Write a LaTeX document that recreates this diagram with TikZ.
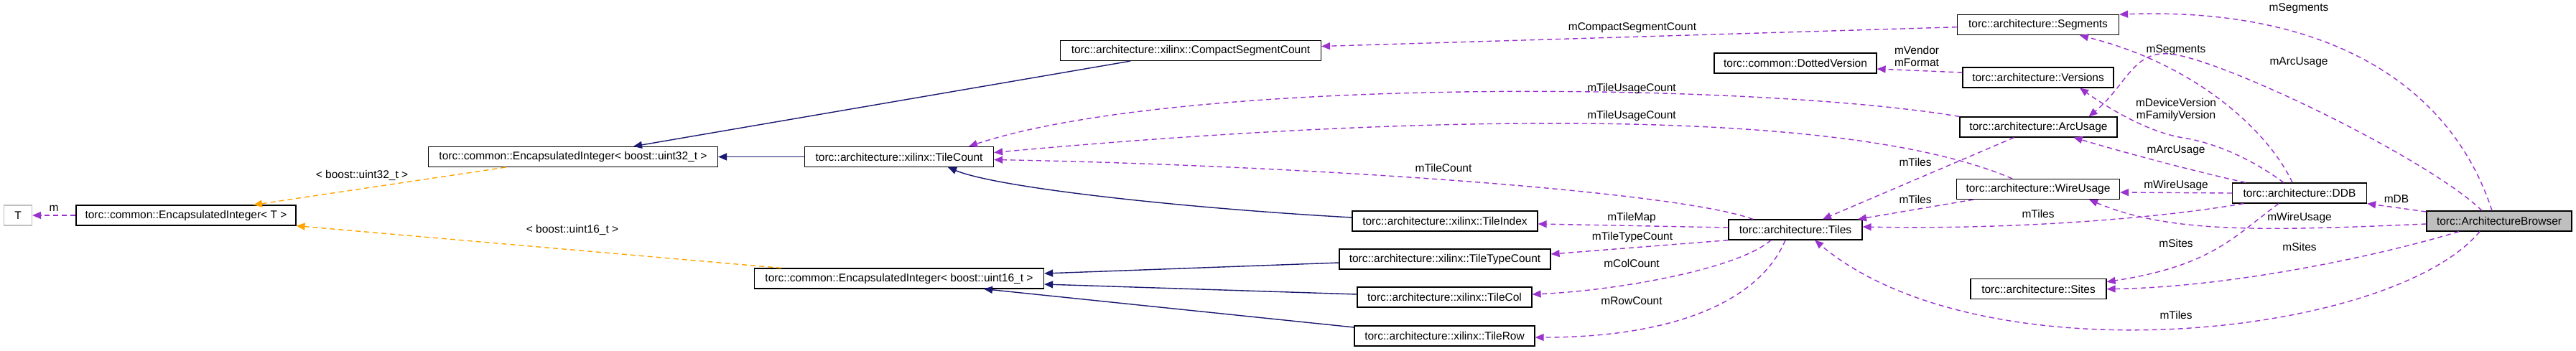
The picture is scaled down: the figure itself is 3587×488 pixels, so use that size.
\documentclass[tikz,border=0pt]{standalone}
\usepackage{fontspec}
\setmainfont{Liberation Sans}
\usetikzlibrary{arrows.meta}
\definecolor{edgepurple}{HTML}{9A32CD}
\definecolor{edgenavy}{HTML}{191970}
\definecolor{edgeorange}{HTML}{FFA500}
\definecolor{nodegrey}{HTML}{BFBFBF}

\begin{document}
\begin{tikzpicture}[x=1pt, y=-1pt,
  cls/.style={draw, rectangle, line width=1.2pt, minimum height=28pt, inner sep=0pt,
    font=\fontsize{15.5}{17.5}\selectfont},
  lbl/.style={inner sep=0pt, align=center, font=\fontsize{15.5}{17.5}\selectfont},
  inh/.style={draw=edgenavy, line width=1.4pt, -{Triangle[length=12pt,width=10pt]}},
  tmpl/.style={draw=edgeorange, line width=1.4pt, dash pattern=on 7pt off 5pt,
    -{Triangle[length=12pt,width=10pt]}},
  usedge/.style={draw=edgepurple, line width=1.4pt, dash pattern=on 7pt off 5pt,
    -{Triangle[length=12pt,width=10pt]}}]

\useasboundingbox (0,0) rectangle (3587,488);

% classes
  \node[cls, draw=nodegrey, minimum width=39pt] (tparam) at (25,300) {T};
  \node[cls, minimum width=306pt] (eiT) at (259,300) {torc::common::EncapsulatedInteger< T >};
  \node[cls, minimum width=403pt] (ei32) at (798,218.5) {torc::common::EncapsulatedInteger< boost::uint32\_t >};
  \node[cls, minimum width=403pt] (ei16) at (1252,388) {torc::common::EncapsulatedInteger< boost::uint16\_t >};
  \node[cls, minimum width=263pt] (tilecount) at (1252,218.5) {torc::architecture::xilinx::TileCount};
  \node[cls, minimum width=363pt] (csc) at (1658,70.5) {torc::architecture::xilinx::CompactSegmentCount};
  \node[cls, minimum width=258pt] (tileindex) at (2012,308) {torc::architecture::xilinx::TileIndex};
  \node[cls, minimum width=294pt] (tiletypecount) at (2012,361) {torc::architecture::xilinx::TileTypeCount};
  \node[cls, minimum width=243pt] (tilecol) at (2011.5,414) {torc::architecture::xilinx::TileCol};
  \node[cls, minimum width=251pt] (tilerow) at (2011.5,468) {torc::architecture::xilinx::TileRow};
  \node[cls, minimum width=186pt] (tiles) at (2500,320) {torc::architecture::Tiles};
  \node[cls, minimum width=226pt] (dottedversion) at (2500,88) {torc::common::DottedVersion};
  \node[cls, minimum width=225pt] (segments) at (2838,34.7) {torc::architecture::Segments};
  \node[cls, minimum width=210pt] (versions) at (2838,108) {torc::architecture::Versions};
  \node[cls, minimum width=219pt] (arcusage) at (2838.5,177) {torc::architecture::ArcUsage};
  \node[cls, minimum width=227pt] (wireusage) at (2838,263.5) {torc::architecture::WireUsage};
  \node[cls, minimum width=189pt] (sites) at (2838.5,402.7) {torc::architecture::Sites};
  \node[cls, minimum width=187pt] (ddb) at (3202,269) {torc::architecture::DDB};
  \node[cls, fill=nodegrey, minimum width=202pt] (browser) at (3480,308) {torc::ArchitectureBrowser};
%
% inheritance
  \draw[inh] ([xshift=-84pt]csc.south) -- ([xshift=84pt]ei32.north);
  \draw[inh] (tilecount.west) -- (ei32.east);
  \draw[inh] ([yshift=5pt]tileindex.west) .. controls (1650,290) and (1390,262) .. ([xshift=68pt]tilecount.south);
  \draw[inh] ([yshift=-5pt]tiletypecount.west) -- ([yshift=7pt]ei16.east);
  \draw[inh] ([yshift=4pt]tilecol.west) -- ([yshift=-8pt]ei16.east);
  \draw[inh] ([yshift=12pt]tilerow.west) -- ([xshift=118pt]ei16.south);
%
% template instances
  \draw[tmpl] ([xshift=-94pt]ei32.south) -- ([xshift=94pt]eiT.north);
  \node[lbl] (lu32) at (504,244) {< boost::uint32\_t >};
  \draw[tmpl] ([xshift=-164pt]ei16.north) -- (eiT.south east);
  \node[lbl] (lu16) at (797,320) {< boost::uint16\_t >};
%
% members
  \draw[usedge] (eiT.west) -- (tparam.east);
  \node[lbl] (lm) at (75,290) {m};
  \draw[usedge] ([yshift=-3pt]segments.west) -- ([yshift=6pt]csc.east);
  \node[lbl] (lcsc) at (2273,39) {mCompactSegmentCount};
  \draw[usedge] ([yshift=7pt]versions.west) -- ([yshift=-8pt]dottedversion.east);
  \node[lbl] (lvendor) at (2669,78.5) {mVendor\\mFormat};
%
  \draw[usedge] ([xshift=-10pt]ddb.north) .. controls (3160,185) and (3060,90) .. ([xshift=58pt]segments.south);
  \node[lbl] (lsegddb) at (3030,70) {mSegments};
  \draw[usedge] ([xshift=-22pt]ddb.north) .. controls (3140,225) and (3090,200) .. (3040,192)
    .. controls (2990,184) and (2935,150) .. ([xshift=58pt]versions.south);
  \node[lbl] (lversion) at (3030,153) {mDeviceVersion\\mFamilyVersion};
  \draw[usedge] ([xshift=-75pt]ddb.north) .. controls (3040,235) and (2950,210) .. ([xshift=49pt]arcusage.south);
  \node[lbl] (larcddb) at (3030,210) {mArcUsage};
  \draw[usedge] (ddb.west) -- ([yshift=-4.5pt]wireusage.east);
  \node[lbl] (lwireddb) at (3030,258) {mWireUsage};
  \draw[usedge] ([xshift=-78pt]ddb.south) .. controls (3000,305) and (2800,320) .. ([yshift=4pt]tiles.east);
  \node[lbl] (ltilesddb) at (2838,298) {mTiles};
  \draw[usedge] ([xshift=-29pt]ddb.south) .. controls (3110,330) and (3080,370) .. ([yshift=10pt]sites.east);
  \node[lbl] (lsitesddb) at (3030,339) {mSites};
%
  \draw[usedge] ([yshift=13pt]browser.west) -- (ddb.south east);
  \node[lbl] (lddb) at (3337,277) {mDB};
  \draw[usedge] ([xshift=-10pt]browser.north) .. controls (3410,110) and (3230,10) .. (segments.north east);
  \node[lbl] (lsegbr) at (3201,12) {mSegments};
  \draw[usedge] ([xshift=-24pt]browser.north) .. controls (3380,220) and (3090,80) .. (3020,75)
    .. controls (2970,71) and (2960,120) .. ([xshift=70pt]arcusage.north);
  \node[lbl] (larcbr) at (3201,87) {mArcUsage};
  \draw[usedge] ([yshift=-4pt]browser.west) .. controls (3150,322) and (3020,325) .. ([xshift=71pt]wireusage.south);
  \node[lbl] (lwirebr) at (3202,303) {mWireUsage};
  \draw[usedge] ([xshift=-56pt]browser.south) .. controls (3300,360) and (3100,400) .. (sites.east);
  \node[lbl] (lsitesbr) at (3202,344) {mSites};
  \draw[usedge] ([xshift=-27pt]browser.south) .. controls (3330,470) and (2760,530) .. ([xshift=27pt]tiles.south);
  \node[lbl] (ltilesbr) at (3030,439) {mTiles};
%
  \draw[usedge] ([xshift=-34pt]arcusage.south) -- ([xshift=38pt]tiles.north);
  \node[lbl] (ltilesarc) at (2667,226) {mTiles};
  \draw[usedge] ([xshift=-90pt]wireusage.south) -- ([xshift=87pt]tiles.north);
  \node[lbl] (ltileswire) at (2667,278) {mTiles};
  \draw[usedge] (arcusage.north west) .. controls (2450,115) and (1650,105) .. ([xshift=97pt]tilecount.north);
  \node[lbl] (lusagearc) at (2272,123) {mTileUsageCount};
  \draw[usedge] ([xshift=-36pt]wireusage.north) .. controls (2550,140) and (1900,165) .. ([yshift=6pt]tilecount.east);
  \node[lbl] (lusagewire) at (2272,161) {mTileUsageCount};
%
  \draw[usedge] ([xshift=-59pt]tiles.north) .. controls (2330,265) and (1800,230) .. ([yshift=-4pt]tilecount.east);
  \node[lbl] (ltilecount) at (2010,234) {mTileCount};
  \draw[usedge] ([yshift=3pt]tiles.west) -- ([yshift=-4pt]tileindex.east);
  \node[lbl] (ltilemap) at (2272,303) {mTileMap};
  \draw[usedge] (tiles.south west) -- ([yshift=7pt]tiletypecount.east);
  \node[lbl] (ltiletype) at (2273,330) {mTileTypeCount};
  \draw[usedge] ([xshift=-34pt]tiles.south) .. controls (2420,375) and (2250,405) .. ([yshift=4pt]tilecol.east);
  \node[lbl] (lcolcount) at (2272,367) {mColCount};
  \draw[usedge] ([xshift=-14pt]tiles.south) .. controls (2450,420) and (2330,470) .. ([yshift=-2pt]tilerow.east);
  \node[lbl] (lrowcount) at (2272,419) {mRowCount};
%
\end{tikzpicture}
\end{document}
